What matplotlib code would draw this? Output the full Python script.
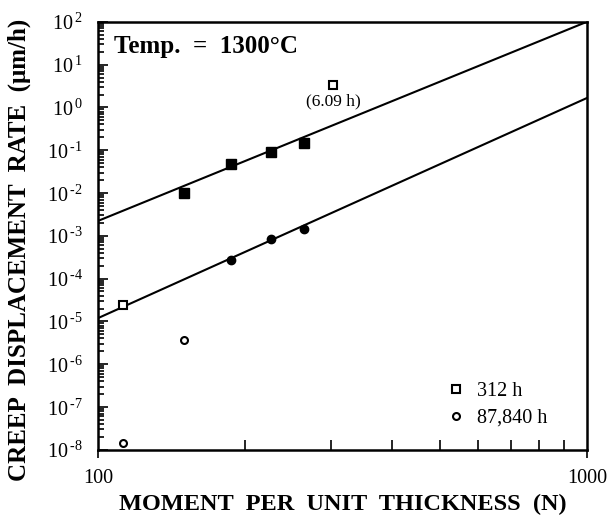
import numpy as np
import matplotlib
matplotlib.use("Agg")
import matplotlib.pyplot as plt
from matplotlib.ticker import LogLocator, NullFormatter, FixedLocator, FixedFormatter, FuncFormatter

plt.rcParams['font.family'] = ['Liberation Serif', 'DejaVu Serif']
plt.rcParams['mathtext.fontset'] = 'custom'
plt.rcParams['mathtext.rm'] = 'Liberation Serif'

# data
moment_sq = [150, 187, 226, 264]            # filled squares
rate_sq = [0.0101, 0.048, 0.092, 0.149]
moment_ci = [187, 226, 264]                 # filled circles
rate_ci = [2.75e-4, 8.5e-4, 1.46e-3]
moment_312 = [112.5, 303]                   # open squares (312 h)
rate_312 = [2.45e-5, 3.37]
moment_87840 = [112.5, 150]                 # open circles (87,840 h)
rate_87840 = [1.45e-8, 3.7e-6]

# power-law fits: rate = A * (M/100)^n
fit_A = [2.24e-3, 1.2e-5]
fit_n = [4.65, 5.14]

fig = plt.figure(figsize=(6.1, 5.2), dpi=100)
ax = fig.add_axes([0.161, 0.135, 0.801, 0.823])

xs = np.array([100, 1000])
for A, n in zip(fit_A, fit_n):
    ax.plot(xs, A * (xs / 100) ** n, color='black', lw=1.5)

ax.plot(moment_sq, rate_sq, 's', color='black', ms=7, ls='none')
ax.plot(moment_ci, rate_ci, 'o', color='black', ms=6, ls='none')
ax.plot(moment_312, rate_312, 's', mfc='white', mec='black', mew=1.5, ms=6, ls='none', label='312 h')
ax.plot(moment_87840, rate_87840, 'o', mfc='white', mec='black', mew=1.5, ms=5, ls='none', label='87,840 h')

ax.set_xscale('log')
ax.set_yscale('log')
ax.set_xlim(100, 1000)
ax.set_ylim(1e-8, 1e2)


def exp_label(v, p):
    e = int(round(np.log10(v)))
    s = str(e).replace('-', '\u2010')
    return r'$10^{\,%s}$' % s


ax.xaxis.set_major_locator(FixedLocator([100, 1000]))
ax.xaxis.set_major_formatter(FixedFormatter(['100', '1000']))
ax.xaxis.set_minor_locator(LogLocator(base=10, subs=np.arange(2, 10)))
ax.xaxis.set_minor_formatter(NullFormatter())
ax.yaxis.set_major_locator(LogLocator(base=10, numticks=20))
ax.yaxis.set_major_formatter(FuncFormatter(exp_label))
ax.yaxis.set_minor_locator(LogLocator(base=10, subs=np.arange(2, 10), numticks=20))
ax.yaxis.set_minor_formatter(NullFormatter())

ax.tick_params(which='both', direction='in', width=1.2, labelsize=14.5)
ax.tick_params(which='major', length=7)
ax.tick_params(which='minor', length=4)
ax.tick_params(axis='y', which='major', pad=11)
ax.tick_params(axis='x', which='major', direction='out', length=6, pad=8)
ax.tick_params(axis='x', which='minor', length=7)
for s in ax.spines.values():
    s.set_linewidth(1.8)

ax.text(303, 1.35, '(6.09 h)', ha='center', va='center', fontsize=12.5)
ax.text(0.033, 0.97, 'Temp.  =  1300°C', transform=ax.transAxes, ha='left', va='top',
        fontsize=18, fontweight='bold')

ax.legend(loc='upper left', frameon=False, fontsize=14.5, handletextpad=0.5,
          handlelength=1.0, borderaxespad=0, labelspacing=0.4,
          bbox_to_anchor=(0.696, 0.178))

ax.set_xlabel('MOMENT  PER  UNIT  THICKNESS  (N)', fontsize=17.5, fontweight='bold', labelpad=4)
ax.set_ylabel('CREEP  DISPLACEMENT  RATE  (μm/h)', fontsize=18, fontweight='bold')
ax.yaxis.set_label_coords(-0.137, 0.467)

fig.savefig('out.png', dpi=100)
